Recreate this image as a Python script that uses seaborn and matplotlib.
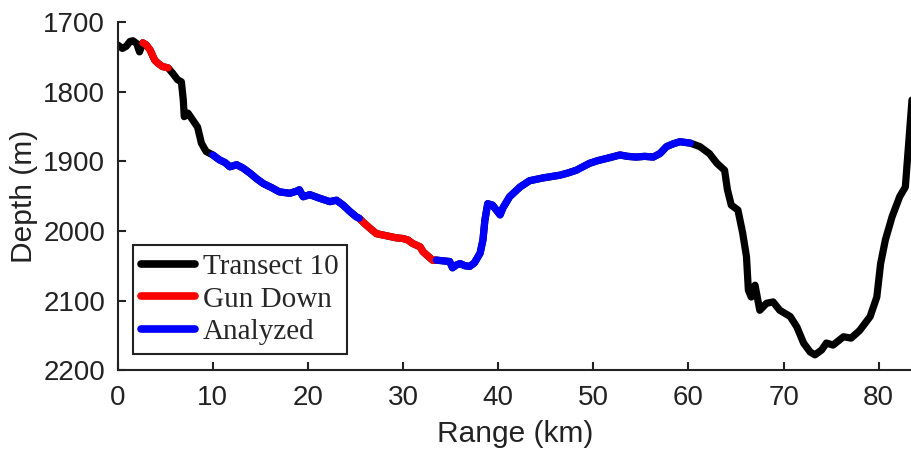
import numpy as np
import pandas as pd
import matplotlib
matplotlib.use("Agg")
import matplotlib.pyplot as plt
import seaborn as sns

# ---- data ----
range_km = [0.0, 0.5, 0.9, 1.3, 1.6, 2.0, 2.3, 2.65, 3.0, 3.4, 3.9, 4.3, 4.7, 5.3,
            5.8, 6.3, 6.7, 6.9, 7.0, 7.4, 7.9, 8.4, 8.8, 9.3, 10.0,
            10.7, 11.3, 11.8, 12.5, 13.2, 13.9, 14.6, 15.3, 16.2, 17.0, 18.1, 18.8,
            19.1, 19.5, 20.2, 21.2, 22.3, 23.0, 23.7, 24.4, 25.1, 25.4,
            26.0, 26.5, 27.2, 27.9, 28.6, 29.3, 30.0, 30.5, 31.0, 31.8, 32.1, 32.6,
            33.1, 33.5,
            34.2, 34.9, 35.2, 35.6, 36.0, 36.5, 37.0, 37.5, 38.1, 38.4, 38.6, 38.9,
            39.4, 39.8, 40.2, 40.5, 41.2, 42.3, 43.3, 44.7, 45.6, 46.5, 47.3, 48.2,
            49.6, 50.5, 51.4, 52.8, 53.6, 54.5, 55.4, 56.3, 57.0, 57.7, 58.4, 59.1,
            60.2,
            61.2, 62.2, 63.0, 63.8, 64.1, 64.5, 65.2, 65.7, 66.1, 66.3, 66.6, 67.0,
            67.5, 68.2, 68.9, 69.6, 70.7, 71.4, 72.1, 72.8, 73.3, 74.0, 74.5, 75.2,
            76.3, 77.1, 78.0, 79.1, 79.8, 80.2, 80.7, 81.4, 82.2, 82.8, 83.1, 83.5,
            84.0]
depth_m = [1733, 1738, 1735, 1728, 1727, 1731, 1743, 1730, 1733, 1740, 1755, 1760, 1764, 1766,
           1774, 1783, 1786, 1812, 1836, 1831, 1841, 1851, 1874, 1886, 1891,
           1898, 1902, 1908, 1905, 1910, 1917, 1925, 1932, 1938, 1944, 1946, 1943,
           1941, 1951, 1948, 1953, 1958, 1956, 1963, 1972, 1980, 1982,
           1990, 1996, 2004, 2006, 2008, 2010, 2011, 2013, 2018, 2023, 2030, 2036,
           2042, 2042,
           2043, 2044, 2053, 2049, 2047, 2050, 2051, 2046, 2032, 2013, 1985, 1961,
           1963, 1970, 1977, 1967, 1951, 1937, 1928, 1924, 1922, 1920, 1917, 1913,
           1903, 1899, 1896, 1891, 1893, 1894, 1893, 1894, 1889, 1879, 1875, 1872,
           1874,
           1879, 1889, 1903, 1913, 1941, 1963, 1970, 2003, 2037, 2085, 2095, 2078,
           2114, 2104, 2102, 2114, 2123, 2138, 2161, 2174, 2178, 2171, 2161, 2164,
           2152, 2154, 2143, 2123, 2095, 2047, 2013, 1980, 1951, 1937, 1884, 1812,
           1740]
gun_down_spans = [(2.65, 5.3), (25.4, 33.5)]
analyzed_spans = [(10.0, 25.4), (33.5, 60.2)]
series_labels = ["Transect 10", "Gun Down", "Analyzed"]
series_colors = ["#000000", "#FF0000", "#0000FF"]

# ---- build long table ----
rows = []
for x, d in zip(range_km, depth_m):
    rows.append(dict(range=x, depth=d, series=series_labels[0], seg="t0"))
for name, spans, tag in [(series_labels[1], gun_down_spans, "g"),
                         (series_labels[2], analyzed_spans, "a")]:
    for k, (a, b) in enumerate(spans):
        for x, d in zip(range_km, depth_m):
            if a <= x <= b:
                rows.append(dict(range=x, depth=d, series=name, seg=f"{tag}{k}"))
df = pd.DataFrame(rows)

sns.set_theme(style="ticks")
plt.rcParams["font.family"] = ["Liberation Sans", "DejaVu Sans"]

fig = plt.figure(figsize=(9.12, 4.57), dpi=100)
ax = fig.add_axes([0.129, 0.190, 0.871, 0.762])

sns.lineplot(data=df, x="range", y="depth", hue="series", hue_order=series_labels,
             palette=series_colors, units="seg", estimator=None, sort=False,
             lw=5.2, ax=ax)

ax.set_xlim(0, 83.5)
ax.set_ylim(2200, 1700)
ax.set_xticks(np.arange(0, 81, 10))
ax.set_yticks(np.arange(1700, 2201, 100))
ax.tick_params(direction="in", length=6, width=1.5, labelsize=20, colors="#222222")
ax.tick_params(axis="x", pad=11)
ax.tick_params(axis="y", pad=9)
for s in ["top", "right"]:
    ax.spines[s].set_visible(False)
for s in ["left", "bottom"]:
    ax.spines[s].set_linewidth(1.5)
    ax.spines[s].set_color("#222222")
ax.set_xlabel("Range (km)", fontsize=21.5, color="#222222", labelpad=6)
ax.set_ylabel("Depth (m)", fontsize=21.5, color="#222222", labelpad=4)

handles, labels = ax.get_legend_handles_labels()
leg = ax.legend(handles, labels, loc="lower left", bbox_to_anchor=(0.019, 0.046),
                borderaxespad=0, prop={"family": "Liberation Serif", "size": 21},
                frameon=True, fancybox=False, edgecolor="#222222", framealpha=1,
                handlelength=1.85, labelspacing=0.22, borderpad=0.3,
                handletextpad=0.25)
leg.get_frame().set_linewidth(1.5)
for h in leg.get_lines():
    h.set_linewidth(5.5)

fig.savefig("out.png", dpi=100)
